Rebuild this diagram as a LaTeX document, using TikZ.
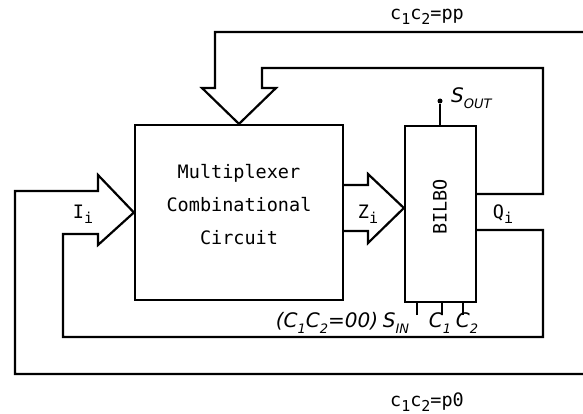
\documentclass[tikz,border=0pt]{standalone}
\usepackage{fontspec}
\setmonofont{DejaVu Sans Mono}
\newfontfamily\handfont{DejaVu Sans}
\usepackage{tikz}
\usetikzlibrary{positioning}
\tikzset{
  blk/.style={draw, line width=2.2pt, inner sep=0pt},
  wire/.style={line width=2.2pt},
  pin/.style={line width=1.5pt},
  tw/.style={font=\fontsize{18.5}{33}\selectfont\ttfamily, inner sep=0pt},
  hw/.style={font=\fontsize{20}{22}\selectfont\handfont\itshape, inner sep=0pt},
}
\newcommand{\tsub}[1]{\raisebox{-0.45ex}{\fontsize{15}{15}\selectfont #1}}
\newcommand{\hsub}[1]{\raisebox{-0.5ex}{\fontsize{13}{13}\selectfont\handfont\itshape #1}}

\begin{document}
\begin{tikzpicture}[x=1pt, y=-1pt]
\useasboundingbox (0,0) rectangle (583,414);
\node[blk, minimum width=208pt, minimum height=175pt] (mux) at (239,212.5) {};
\node[tw, align=center] (muxtxt) at (239,205) {Multiplexer\\Combinational\\Circuit};
\node[blk, minimum width=71pt, minimum height=176pt] (bilbo) at (440.5,214) {};
\node[tw, rotate=90] (bilbotxt) at (440,207) {BILBO};
\coordinate (ppend) at (583,32);
\coordinate (p0end) at (583,374);
% feedback busses
\draw[wire] (ppend) -- (215,32) -- (215,88) -- (202,88) -- (mux.north) -- (276,88) -- (262,88)
  -- (262,68) -- (543,68) -- (543,194) -- ([yshift=20pt]bilbo.east);
\draw[wire] ([yshift=-16pt]bilbo.east) -- (543,230) -- (543,337) -- (63,337) -- (63,234) -- (98,234)
  -- (98,245) -- (mux.west) -- (98,175) -- (98,191) -- (15,191) -- (15,374) -- (p0end);
\draw[wire] ([yshift=27.5pt]mux.east) -- (368,185) -- (368,174) -- ([yshift=6pt]bilbo.west)
  -- (368,243) -- (368,231) -- ([yshift=-18.5pt]mux.east);
% control pins
\node[circle, fill, inner sep=0pt, minimum size=5pt] (sout) at (440,101) {};
\draw[pin] (sout) -- (sout |- bilbo.north);
\foreach \p/\x in {sin/417, cone/442, ctwo/463} {
  \coordinate (\p) at (\x,315);
  \draw[pin] (\p) -- (\p |- bilbo.south);
}
\node[tw] (lpp) at (427,17) {c\tsub1c\tsub2=pp};
\node[tw] (lp0) at (427,402) {c\tsub1c\tsub2=p0};
\node[tw] (li) at (83,214) {I\tsub i};
\node[tw] (lz) at (368,214) {Z\tsub i};
\node[tw] (lq) at (503,214) {Q\tsub i};
\node[hw, anchor=west] (lsout) at (451,98) {S\hsub{OUT}};
\node[hw] (lcc) at (327,323) {(C\hsub{1}C\hsub{2}=00)};
\node[hw] (lsin) at (396,323) {S\hsub{IN}};
\node[hw] (lc1) at (440,323) {C\hsub{1}};
\node[hw] (lc2) at (467,323) {C\hsub{2}};
\end{tikzpicture}
\end{document}
